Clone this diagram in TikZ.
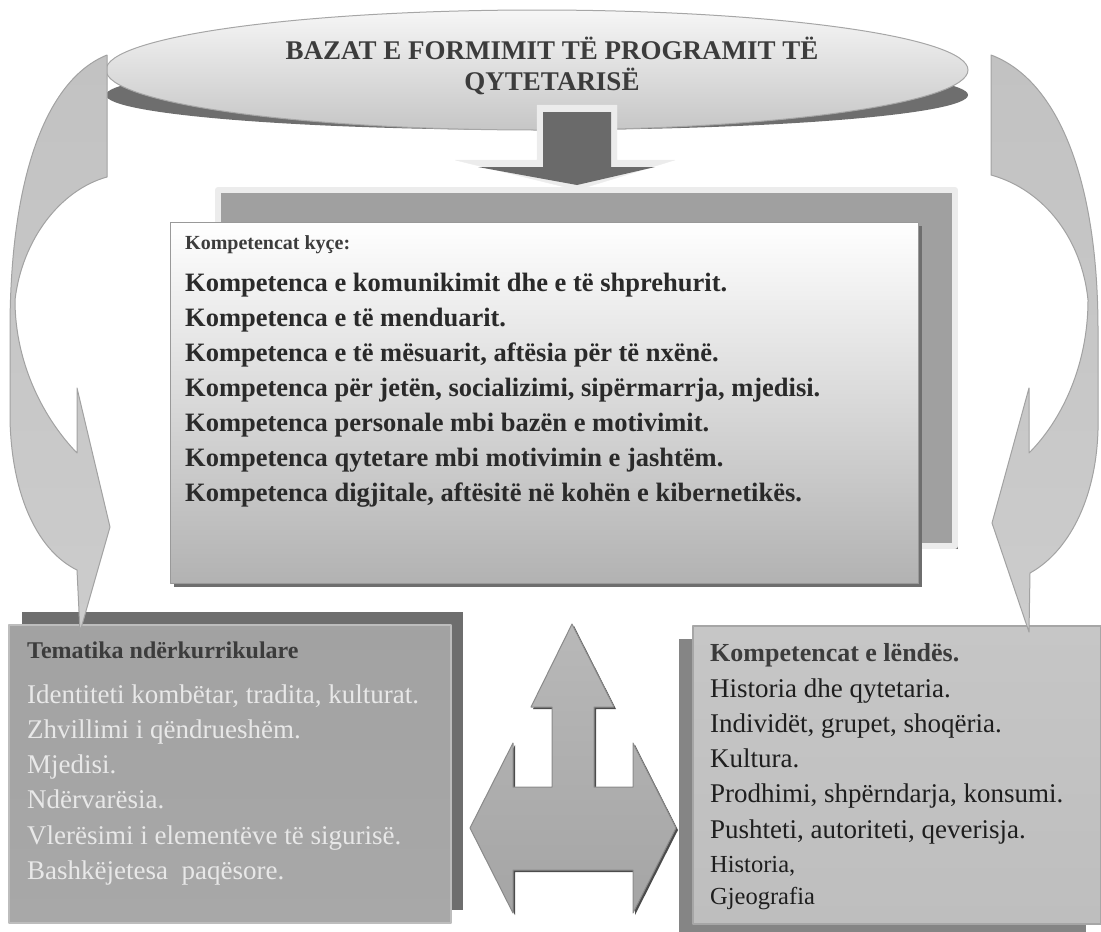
\documentclass[tikz,border=0pt]{standalone}
\usepackage{fontspec}
\setmainfont{Liberation Serif}
\usetikzlibrary{shapes.geometric,shadows}

\definecolor{inkdark}{HTML}{3C3C3C}
\definecolor{inkblack}{HTML}{1E1E1E}
\definecolor{inklight}{HTML}{E8E8E8}
\definecolor{elltop}{HTML}{F6F6F6}
\definecolor{ellbot}{HTML}{C6C6C6}
\definecolor{ellborder}{HTML}{A6A6A6}
\definecolor{shadowgray}{HTML}{6E6E6E}
\definecolor{keyback}{HTML}{A0A0A0}
\definecolor{keyframe}{HTML}{ECECEC}
\definecolor{keybot}{HTML}{B2B2B2}
\definecolor{boxborder}{HTML}{999999}
\definecolor{themetop}{HTML}{A2A2A2}
\definecolor{thememid}{HTML}{5E5E5E}
\definecolor{themebot}{HTML}{A8A8A8}
\definecolor{themeline}{HTML}{BDBDBD}
\definecolor{subjtop}{HTML}{C6C6C6}
\definecolor{subjmid}{HTML}{A0A0A0}
\definecolor{subjbot}{HTML}{BEBEBE}
\definecolor{subjback}{HTML}{858585}
\definecolor{arrowtop}{HTML}{C2C2C2}
\definecolor{arrowmid}{HTML}{E0E0E0}
\definecolor{arrowbot}{HTML}{CCCCCC}
\definecolor{arrowline}{HTML}{A2A2A2}
\definecolor{downdark}{HTML}{6A6A6A}

\begin{document}
\begin{tikzpicture}[x=1pt,y=-1pt,line join=round]
	\tikzstyle{title ellipse}=[ellipse,draw=ellborder,line width=1pt,top color=elltop,bottom color=ellbot,minimum width=862pt,minimum height=120pt,inner sep=0pt]
	\tikzstyle{title shade}=[ellipse,fill=shadowgray,minimum width=862pt,minimum height=70pt,inner sep=0pt]
	\tikzstyle{title text}=[anchor=base,inner sep=0pt,text=inkdark,font=\fontsize{27}{31}\selectfont\bfseries]
	\tikzstyle{box}=[rectangle,anchor=north west,inner sep=0pt]
	\tikzstyle{key back}=[box,fill=keyback,draw=keyframe,line width=6pt,drop shadow={shadow xshift=3pt,shadow yshift=-3pt,fill=shadowgray,opacity=1}]
	\tikzstyle{key box}=[box,draw=boxborder,line width=1.2pt,top color=white,bottom color=keybot,drop shadow={shadow xshift=3pt,shadow yshift=-3pt,fill=shadowgray,opacity=1}]
	\tikzstyle{theme box}=[box,draw=themeline,line width=1.5pt,top color=themetop,middle color=thememid,bottom color=themebot]
	\tikzstyle{subject box}=[box,draw=ellborder,line width=1.5pt,top color=subjtop,middle color=subjmid,bottom color=subjbot]
	\tikzstyle{curved arrow}=[draw=arrowline,line width=1pt,top color=arrowtop,middle color=arrowmid,bottom color=arrowbot]
	\tikzstyle{block arrow}=[draw=arrowline!85!black,line width=1pt,top color=arrowtop!95!black,bottom color=arrowtop!85!black,drop shadow={shadow xshift=2pt,shadow yshift=-2pt,fill=black!70,opacity=1}]
	\tikzstyle{line}=[anchor=base west,inner sep=0pt]
	\tikzstyle{key head}=[line,text=inkdark,font=\fontsize{20}{24}\selectfont\bfseries]
	\tikzstyle{key line}=[line,text=inkdark!70!black,font=\fontsize{26.5}{30}\selectfont\bfseries]
	\tikzstyle{theme head}=[line,text=inkdark,font=\fontsize{24}{28}\selectfont\bfseries]
	\tikzstyle{theme line}=[line,text=inklight,font=\fontsize{27}{31}\selectfont]
	\tikzstyle{subject head}=[line,text=inkdark,font=\fontsize{26}{30}\selectfont\bfseries]
	\tikzstyle{subject line}=[line,text=inkblack,font=\fontsize{27}{31}\selectfont]
	\tikzstyle{subject small}=[line,text=inkblack,font=\fontsize{24.5}{28}\selectfont]

	\useasboundingbox (0,0) rectangle (1101,932);

	% Draw the title ellipse with its shadow
	\node[title shade] (title-shade) at (537,95) {};
	\node[title ellipse] (title) at (537,70) {};
	\node[title text] (title-1) at (552,59) {BAZAT E FORMIMIT TË PROGRAMIT TË};
	\node[title text] (title-2) at (552,90) {QYTETARISË};

	% Arrow from the title down to the key competences
	\path[fill=keyframe,draw=keyframe] (537,105) -- (617,105) -- (617,160) -- (675,160) -- (577,190) -- (455,160) -- (537,160) -- cycle;
	\path[fill=downdark] (543,112) -- (611,112) -- (611,167) -- (655,167) -- (577,185) -- (478,167) -- (543,167) -- cycle;

	% Key competences
	\node[key back,minimum width=737pt,minimum height=356pt] (key-back) at (215,187) {};
	\node[key box,minimum width=748pt,minimum height=361pt] (key) at (170,222) {};
	\node[key head] (key-head) at (185,249) {Kompetencat kyçe:};
	\foreach \txt [count=\i] in {Kompetenca e komunikimit dhe e të shprehurit.,
		Kompetenca e të menduarit.,
		{Kompetenca e të mësuarit, aftësia për të nxënë.},
		{Kompetenca për jetën, socializimi, sipërmarrja, mjedisi.},
		Kompetenca personale mbi bazën e motivimit.,
		Kompetenca qytetare mbi motivimin e jashtëm.,
		{Kompetenca digjitale, aftësitë në kohën e kibernetikës.}}
	\node[key line] (K-\i) at (185,256+35*\i) {\txt};

	% Cross-curricular themes
	\node[box,fill=shadowgray,minimum width=441pt,minimum height=298pt] (theme-back) at (22,612) {};
	\node[theme box,minimum width=442pt,minimum height=298pt] (theme) at (8,624) {};
	\node[theme head] (theme-head) at (27,658) {Tematika ndërkurrikulare};
	\foreach \txt [count=\i] in {{Identiteti kombëtar, tradita, kulturat.},
		Zhvillimi i qëndrueshëm.,
		Mjedisi.,
		Ndërvarësia.,
		Vlerësimi i elementëve të sigurisë.,
		Bashkëjetesa\ \ paqësore.}
	\node[theme line] (T-\i) at (27,668+35.2*\i) {\txt};

	% Subject competences
	\node[box,fill=subjback,minimum width=407pt,minimum height=293pt] (subject-back) at (679,639) {};
	\node[subject box,minimum width=408pt,minimum height=298pt] (subject) at (692,625) {};
	\node[subject head] (subject-head) at (710,661) {Kompetencat e lëndës.};
	\foreach \txt [count=\i] in {Historia dhe qytetaria.,
		{Individët, grupet, shoqëria.},
		Kultura.,
		{Prodhimi, shpërndarja, konsumi.},
		{Pushteti, autoriteti, qeverisja.}}
	\node[subject line] (S-\i) at (710,662+35.2*\i) {\txt};
	\node[subject small] (S-6) at (710,872) {Historia,};
	\node[subject small] (S-7) at (710,904) {Gjeografia};

	% Three-way arrow between the boxes
	\path[block arrow] (572,624) -- (614,707) -- (594,707) -- (594,787) -- (633,787) -- (633,743) -- (676,828) -- (633,913) -- (633,870) -- (513,870) -- (513,913) -- (470,828) -- (513,743) -- (513,787) -- (552,787) -- (552,707) -- (531,707) -- cycle;

	% Curved arrows from the title to the bottom boxes
	\path[curved arrow] (107,55) .. controls (45,80) and (10,180) .. (10,330) -- (10,420) .. controls (12,500) and (40,552) .. (77,570) -- (80,632) -- (110,527) -- (77,388) -- (77,453) .. controls (45,420) and (15,365) .. (15,300) .. controls (22,240) and (60,190) .. (107,177) -- cycle;
	\path[curved arrow] (991,55) .. controls (1058,80) and (1098,180) .. (1098,330) -- (1098,430) .. controls (1096,500) and (1068,552) .. (1030,573) -- (1029,632) -- (992,523) -- (1029,388) -- (1029,453) .. controls (1062,420) and (1088,365) .. (1088,300) .. controls (1082,240) and (1045,190) .. (991,175) -- cycle;
\end{tikzpicture}
\end{document}
